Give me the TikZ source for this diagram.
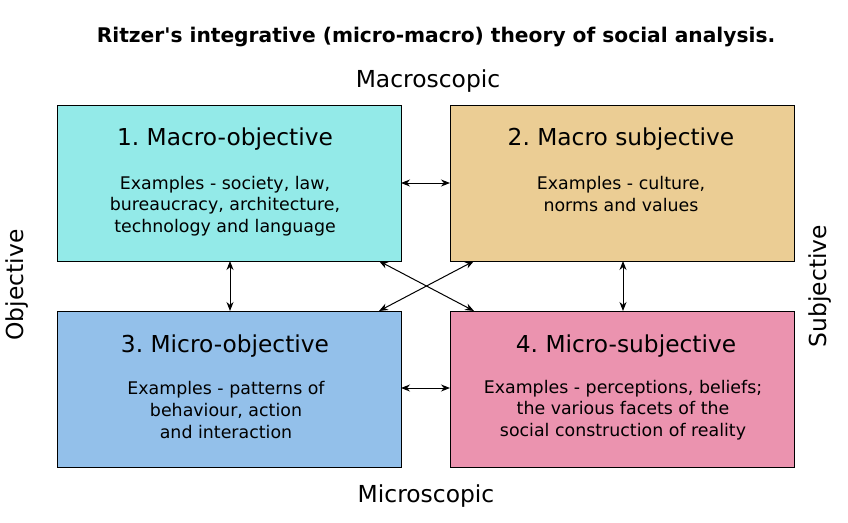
\documentclass[tikz,border=0pt]{standalone}
\usepackage{fontspec}
\setmainfont{DejaVu Sans}[Ligatures=TeXOff]
\usetikzlibrary{arrows.meta}
\definecolor{cA}{HTML}{93EAE8}
\definecolor{cB}{HTML}{EBCD94}
\definecolor{cC}{HTML}{93C0EA}
\definecolor{cD}{HTML}{EB93AF}
\frenchspacing
\begin{document}
\begin{tikzpicture}[x=1pt,y=-1pt,
  quad/.style={draw=black, line width=1pt, minimum width=344pt, minimum height=156pt, anchor=north west, inner sep=0pt},
  ttl/.style={font=\fontsize{23.3}{28}\selectfont},
  ex/.style={font=\fontsize{17.4}{21.6}\selectfont, align=center},
  side/.style={font=\fontsize{23.4}{28}\selectfont},
  link/.style={{Stealth[length=9pt,width=7pt]}-{Stealth[length=9pt,width=7pt]}, line width=1pt}]
\useasboundingbox (0,0) rectangle (848,522);
\node[quad, fill=cA] (b1) at (57,105) {};
\node[quad, fill=cB] (b2) at (450,105) {};
\node[quad, fill=cC] (b3) at (57,311) {};
\node[quad, fill=cD] (b4) at (450,311) {};
\node[ttl] (t1) at (225,139) {1. Macro-objective};
\node[ttl] (t2) at (621,139) {2. Macro subjective};
\node[ttl] (t3) at (225,346) {3. Micro-objective};
\node[ttl] (t4) at (626,346) {4. Micro-subjective};
\node[ex] (e1) at (225,206) {Examples - society, law,\\bureaucracy, architecture,\\technology and language};
\node[ex] (e2) at (621,194) {Examples - culture,\\norms and values};
\node[ex] (e3) at (226,410) {Examples - patterns of\\behaviour, action\\and interaction};
\node[ex] (e4) at (623,410) {Examples - perceptions, beliefs;\\the various facets of the\\social construction of reality};
\node[font=\bfseries\fontsize{20.2}{24}\selectfont] (title) at (436,37) {Ritzer's integrative (micro-macro) theory of social analysis.};
\node[side] (macro) at (428,81) {Macroscopic};
\node[side] (micro) at (426,496) {Microscopic};
\node[side, rotate=90] (obj) at (17,285) {Objective};
\node[side, rotate=90] (subj) at (820,286) {Subjective};
\coordinate (h1a) at (401,183); \coordinate (h1b) at (450,183);
\coordinate (h2a) at (401,388); \coordinate (h2b) at (450,388);
\coordinate (v1a) at (230,261); \coordinate (v1b) at (230,311);
\coordinate (v2a) at (623,261); \coordinate (v2b) at (623,311);
\coordinate (d1a) at (379,261); \coordinate (d1b) at (474,311);
\coordinate (d2a) at (474,261); \coordinate (d2b) at (379,311);
\draw[link] (h1a) -- (h1b);
\draw[link] (h2a) -- (h2b);
\draw[link] (v1a) -- (v1b);
\draw[link] (v2a) -- (v2b);
\draw[link] (d1a) -- (d1b);
\draw[link] (d2a) -- (d2b);
\end{tikzpicture}
\end{document}
